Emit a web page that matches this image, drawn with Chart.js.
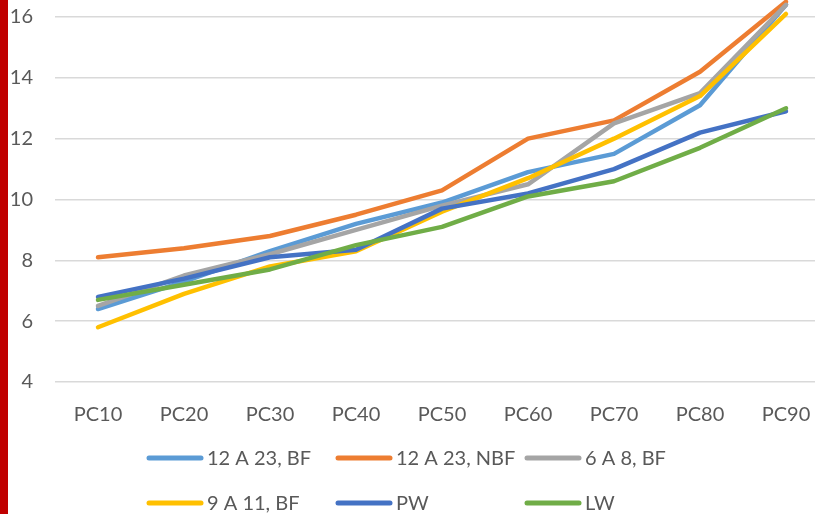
<!DOCTYPE html>
<html>
<head>
<meta charset="utf-8">
<script src="https://cdn.jsdelivr.net/npm/chart.js@4/dist/chart.umd.min.js"></script>
<style>
  html, body { margin: 0; padding: 0; background: #fff; overflow: hidden; }
  #wrap { position: relative; width: 815px; height: 514px; overflow: hidden; }
  #bar { position: absolute; left: 0; top: 0; width: 8px; height: 514px; background: #C00000; z-index: 2; }
  #chart { position: absolute; left: 0; top: -17px; }
</style>
</head>
<body>
<div id="wrap">
  <div id="bar"></div>
  <canvas id="chart" width="840" height="531"></canvas>
</div>
<script>
const categories = ['PC10', 'PC20', 'PC30', 'PC40', 'PC50', 'PC60', 'PC70', 'PC80', 'PC90']

const bf12to23 = [6.4, 7.3, 8.3, 9.2, 9.9, 10.9, 11.5, 13.1, 16.4]
const nbf12to23 = [8.1, 8.4, 8.8, 9.5, 10.3, 12.0, 12.6, 14.2, 16.5]
const bf6to8 = [6.5, 7.5, 8.2, 9.0, 9.8, 10.5, 12.5, 13.5, 16.4]
const bf9to11 = [5.8, 6.9, 7.8, 8.3, 9.6, 10.7, 12.0, 13.4, 16.1]
const pw = [6.8, 7.4, 8.1, 8.35, 9.7, 10.2, 11.0, 12.2, 12.9]
const lw = [6.7, 7.2, 7.7, 8.5, 9.1, 10.1, 10.6, 11.7, 13.0]

const seriesLabels = ['12 A 23, BF', '12 A 23, NBF', '6 A 8, BF', '9 A 11, BF', 'PW', 'LW']
const seriesColors = ['#5B9BD5', '#ED7D31', '#A5A5A5', '#FFC000', '#4472C4', '#70AD47']
const seriesValues = [bf12to23, nbf12to23, bf6to8, bf9to11, pw, lw]

const FONT = 'Lato, sans-serif'
const TEXT = '#595959'
const SHIFT = 17 // canvas sits 17px above the window top

// legend laid out in fixed columns like the spreadsheet one
const gridLegend = {
  id: 'gridLegend',
  afterDraw(chart) {
    const ctx = chart.ctx
    ctx.save()
    ctx.font = `20px ${FONT}`
    ctx.textBaseline = 'middle'
    ctx.fillStyle = TEXT
    chart.data.datasets.forEach((ds, i) => {
      const x = 147 + (i % 3) * 189
      const y = SHIFT + 458 + Math.floor(i / 3) * 45
      ctx.strokeStyle = ds.borderColor
      ctx.lineWidth = 5
      ctx.lineCap = 'round'
      ctx.beginPath()
      ctx.moveTo(x + 2, y)
      ctx.lineTo(x + 54, y)
      ctx.stroke()
      ctx.fillText(ds.label, x + 60, y + 1)
    })
    ctx.restore()
  }
}

const datasets = seriesValues.map((values, i) => ({
  label: seriesLabels[i],
  data: values,
  borderColor: seriesColors[i],
  backgroundColor: seriesColors[i],
  borderWidth: 4.5,
  borderCapStyle: 'round',
  borderJoinStyle: 'round',
  pointRadius: 0,
  tension: 0,
  clip: false,
  order: seriesValues.length - i
}))

new Chart(document.getElementById('chart'), {
  type: 'line',
  data: { labels: categories, datasets },
  plugins: [gridLegend],
  options: {
    responsive: false,
    animation: false,
    layout: { padding: { top: 0, right: 11, left: 0, bottom: 0 } },
    plugins: {
      legend: { display: false },
      tooltip: { enabled: false }
    },
    scales: {
      x: {
        offset: true,
        grid: { display: false },
        border: { display: false },
        ticks: { color: TEXT, font: { family: FONT, size: 20 }, padding: 13, maxRotation: 0 },
        afterFit: (scale) => { scale.height = 132 }
      },
      y: {
        min: 4,
        max: 16,
        grid: { color: '#D9D9D9', lineWidth: 1.5, drawTicks: false },
        border: { display: false },
        ticks: { stepSize: 2, color: TEXT, font: { family: FONT, size: 20 }, padding: 22 },
        afterFit: (scale) => { scale.width = 55 }
      }
    }
  }
})
</script>
</body>
</html>
